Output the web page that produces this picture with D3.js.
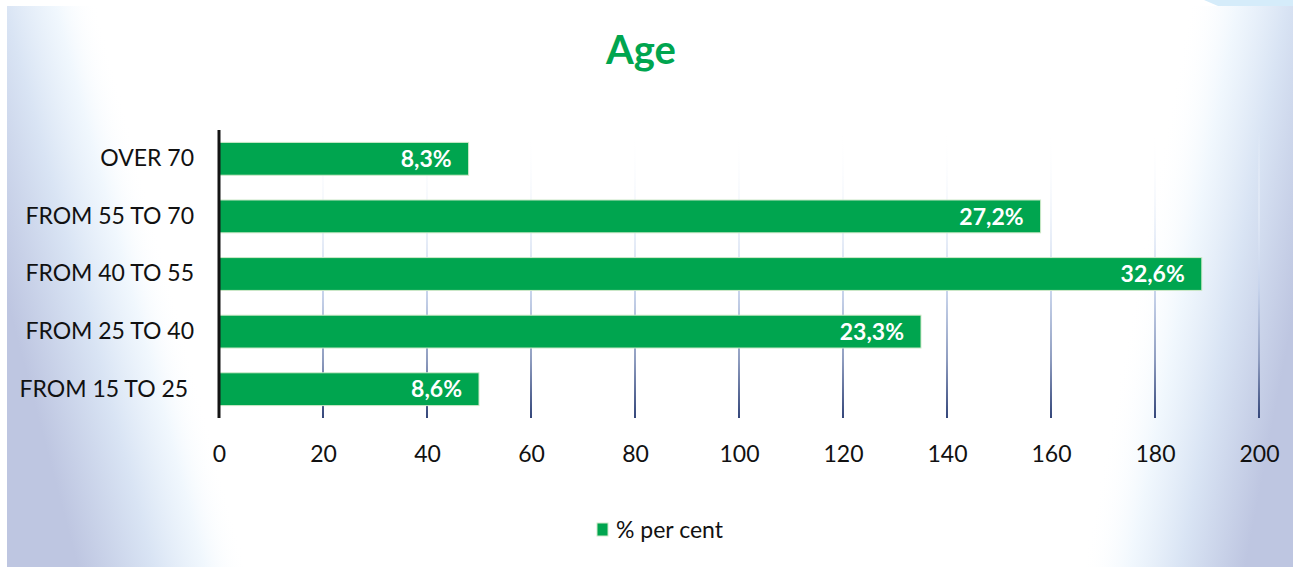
<!DOCTYPE html>
<html>
<head>
<meta charset="utf-8">
<script src="https://cdn.jsdelivr.net/npm/d3@7"></script>
<style>
  html, body { margin: 0; padding: 0; background: #ffffff; }
  svg { display: block; }
  text { font-family: Lato, "Open Sans", sans-serif; }
</style>
</head>
<body>
<svg id="chart" width="1293" height="567"></svg>
<script>
// ---- data ----
const categories = ["OVER 70", "FROM 55 TO 70", "FROM 40 TO 55", "FROM 25 TO 40", "FROM 15 TO 25 "];
const values = [48, 158, 189, 135, 50];
const valueLabels = ["8,3%", "27,2%", "32,6%", "23,3%", "8,6%"];
const xTicks = [0, 20, 40, 60, 80, 100, 120, 140, 160, 180, 200];
const seriesName = "% per cent";
const title = "Age";

const svg = d3.select("#chart");
const W = 1293, H = 567;
const green = "#00a54f";

const defs = svg.append("defs");
// left background gradient
const lg = defs.append("linearGradient").attr("id", "bgLeft")
  .attr("gradientUnits", "userSpaceOnUse")
  .attr("x1", 7).attr("y1", 300).attr("x2", 165).attr("y2", 258);
lg.append("stop").attr("offset", 0).attr("stop-color", "#bec6e1").attr("stop-opacity", 1);
lg.append("stop").attr("offset", 0.45).attr("stop-color", "#d9e4f4").attr("stop-opacity", 1);
lg.append("stop").attr("offset", 0.75).attr("stop-color", "#eef6fd").attr("stop-opacity", 0.85);
lg.append("stop").attr("offset", 1).attr("stop-color", "#ffffff").attr("stop-opacity", 0);
// right background gradient
const rg = defs.append("linearGradient").attr("id", "bgRight")
  .attr("gradientUnits", "userSpaceOnUse")
  .attr("x1", 1135).attr("y1", 286).attr("x2", 1293).attr("y2", 316);
rg.append("stop").attr("offset", 0).attr("stop-color", "#ffffff").attr("stop-opacity", 0);
rg.append("stop").attr("offset", 0.3).attr("stop-color", "#eef6fd").attr("stop-opacity", 0.85);
rg.append("stop").attr("offset", 0.6).attr("stop-color", "#d9e4f4").attr("stop-opacity", 1);
rg.append("stop").attr("offset", 1).attr("stop-color", "#bec6e1").attr("stop-opacity", 1);
// gridline gradient
const gg = defs.append("linearGradient").attr("id", "gridGrad")
  .attr("gradientUnits", "userSpaceOnUse")
  .attr("x1", 0).attr("y1", 130).attr("x2", 0).attr("y2", 418);
gg.append("stop").attr("offset", 0).attr("stop-color", "#ffffff").attr("stop-opacity", 0);
gg.append("stop").attr("offset", 0.3).attr("stop-color", "#e6edf8").attr("stop-opacity", 0.6);
gg.append("stop").attr("offset", 0.55).attr("stop-color", "#c6d3ec").attr("stop-opacity", 0.9);
gg.append("stop").attr("offset", 0.8).attr("stop-color", "#8e9cbf").attr("stop-opacity", 1);
gg.append("stop").attr("offset", 1).attr("stop-color", "#34467a").attr("stop-opacity", 1);

// background
svg.append("rect").attr("x", 0).attr("y", 0).attr("width", W).attr("height", H).attr("fill", "#ffffff");
svg.append("rect").attr("x", 7).attr("y", 6).attr("width", 300).attr("height", H - 6).attr("fill", "url(#bgLeft)");
svg.append("rect").attr("x", 1000).attr("y", 6).attr("width", W - 1000).attr("height", H - 6).attr("fill", "url(#bgRight)");
svg.append("polygon").attr("points", "1204,0 1293,0 1293,6 1218,6").attr("fill", "#d5ecfa");

// scales
const x = d3.scaleLinear().domain([0, 200]).range([219, 1259]);
const y = d3.scaleBand().domain(categories).range([130, 418]).paddingInner(0.43).paddingOuter(0.215);

// gridlines
svg.append("g").selectAll("line").data(xTicks.filter(d => d > 0)).join("line")
  .attr("x1", d => x(d)).attr("x2", d => x(d))
  .attr("y1", 130).attr("y2", 418)
  .attr("stroke", "url(#gridGrad)").attr("stroke-width", 2);

// bars
const data = categories.map((c, i) => ({ c, v: values[i], l: valueLabels[i] }));
svg.append("g").selectAll("rect").data(data).join("rect")
  .attr("x", x(0)).attr("y", d => y(d.c))
  .attr("width", d => x(d.v) - x(0)).attr("height", y.bandwidth())
  .attr("fill", green).attr("stroke", "#cfe9c9").attr("stroke-width", 1);

// bar labels
svg.append("g").selectAll("text").data(data).join("text")
  .attr("x", d => x(d.v) - 17)
  .attr("y", d => y(d.c) + y.bandwidth() / 2)
  .attr("dy", "0.36em")
  .attr("text-anchor", "end")
  .attr("fill", "#ffffff").attr("font-weight", "bold").attr("font-size", 23)
  .text(d => d.l);

// axis line
svg.append("line").attr("x1", x(0)).attr("x2", x(0)).attr("y1", 130).attr("y2", 418)
  .attr("stroke", "#141414").attr("stroke-width", 3);

// x axis tick labels
const xAxis = d3.axisBottom(x).tickValues(xTicks).tickSize(0).tickPadding(0);
const gx = svg.append("g").attr("transform", "translate(0,446)").call(xAxis);
gx.select(".domain").remove();
gx.selectAll("text").attr("font-size", 23).attr("fill", "#111").attr("dy", "0.71em")
  .style("font-family", "Lato, 'Open Sans', sans-serif");

// y axis category labels
const yAxis = d3.axisLeft(y).tickSize(0).tickPadding(0);
const gy = svg.append("g").attr("transform", "translate(194,0)").call(yAxis);
gy.select(".domain").remove();
gy.selectAll("text").attr("font-size", 23).attr("fill", "#111")
  .style("white-space", "pre")
  .style("font-family", "Lato, 'Open Sans', sans-serif");

// title
svg.append("text").attr("x", 641).attr("y", 64).attr("text-anchor", "middle")
  .attr("font-size", 40).attr("font-weight", "bold").attr("fill", "#00a54f").text(title);

// legend
const leg = svg.append("g").attr("transform", "translate(597,523)");
leg.append("rect").attr("x", 0).attr("y", 0).attr("width", 11).attr("height", 13)
  .attr("fill", green).attr("stroke", "#cfe9c9").attr("stroke-width", 1);
leg.append("text").attr("x", 19).attr("y", 15).attr("font-size", 23).attr("fill", "#111").text(seriesName);
</script>
</body>
</html>
